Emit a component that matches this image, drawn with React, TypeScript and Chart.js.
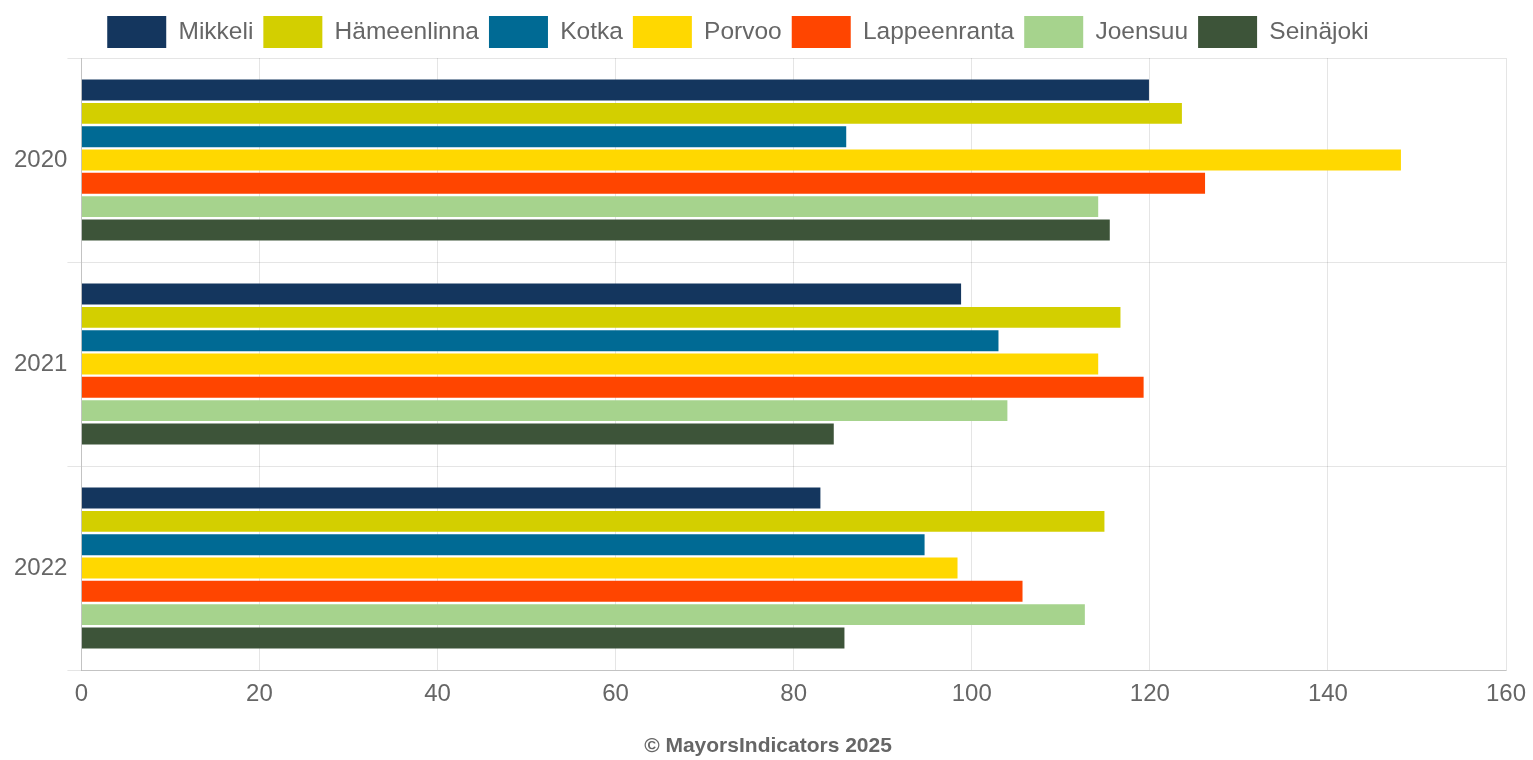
import React, { useEffect, useRef } from "react";
import { Chart, registerables } from "chart.js";

Chart.register(...registerables);

const years = ["2020", "2021", "2022"];
const cities = ["Mikkeli", "Hämeenlinna", "Kotka", "Porvoo", "Lappeenranta", "Joensuu", "Seinäjoki"];
const mikkeli = [119.9, 98.8, 83.0];
const hameenlinna = [123.6, 116.7, 114.9];
const kotka = [85.9, 103.0, 94.7];
const porvoo = [148.2, 114.2, 98.4];
const lappeenranta = [126.2, 119.3, 105.7];
const joensuu = [114.2, 104.0, 112.7];
const seinajoki = [115.5, 84.5, 85.7];
const seriesValues = [mikkeli, hameenlinna, kotka, porvoo, lappeenranta, joensuu, seinajoki];
const colors = ["#14365e", "#d3cf00", "#006a94", "#ffd800", "#ff4500", "#a6d38d", "#3d5439"];
const xTicks = [0, 20, 40, 60, 80, 100, 120, 140, 160];
const footer = "© MayorsIndicators 2025";

const shiftPlugin = {
  id: "shiftBoxes",
  afterLayout(chart: any) {
    const lg = chart.legend;
    if (lg) {
      lg.left -= 22;
      lg.right -= 22;
    }
    const tt = chart.titleBlock;
    if (tt) {
      tt.left += 8;
      tt.right += 8;
    }
  },
};

export default function App() {
  const ref = useRef<HTMLCanvasElement | null>(null);
  useEffect(() => {
    if (!ref.current) return;
    const font = "Arial, 'Liberation Sans', Helvetica, sans-serif";
    const chart = new Chart(ref.current, {
      type: "bar",
      data: {
        labels: years,
        datasets: cities.map((c, i) => ({
          label: c,
          data: seriesValues[i],
          backgroundColor: colors[i],
          borderWidth: 0,
        })),
      },
      plugins: [shiftPlugin],
      options: {
        indexAxis: "y",
        animation: false,
        responsive: true,
        maintainAspectRatio: false,
        layout: { padding: { left: 14, right: 27, top: 6, bottom: 1 } },
        plugins: {
          legend: {
            position: "top",
            labels: {
              boxWidth: 59,
              boxHeight: 32,
              padding: 10,
              color: "#666",
              font: { family: font, size: 24.5 },
            },
          },
          title: {
            display: true,
            position: "bottom",
            text: footer,
            color: "#666",
            font: { family: font, size: 21, weight: "bold" },
            padding: { top: 15, bottom: 0 },
          },
          tooltip: { enabled: false },
        },
        scales: {
          x: {
            min: 0,
            max: 160,
            afterBuildTicks: (axis: any) => {
              axis.ticks = xTicks.map((v) => ({ value: v }));
            },
            afterFit: (axis: any) => {
              axis.paddingRight = 10;
            },
            grid: { color: "rgba(0,0,0,0.1)", drawTicks: false },
            border: { color: "rgba(0,0,0,0.15)" },
            ticks: { color: "#666", font: { family: font, size: 24 }, padding: 10 },
          },
          y: {
            grid: { color: "rgba(0,0,0,0.1)", tickLength: 14 },
            border: { color: "rgba(0,0,0,0.15)" },
            ticks: { color: "#666", font: { family: font, size: 24 }, padding: 0 },
          },
        },
      },
    });
    return () => chart.destroy();
  }, []);
  return (
    <div style={{ position: "fixed", left: 0, top: 0, width: 1533, height: 760, background: "#fff" }}>
      <canvas ref={ref} />
    </div>
  );
}
